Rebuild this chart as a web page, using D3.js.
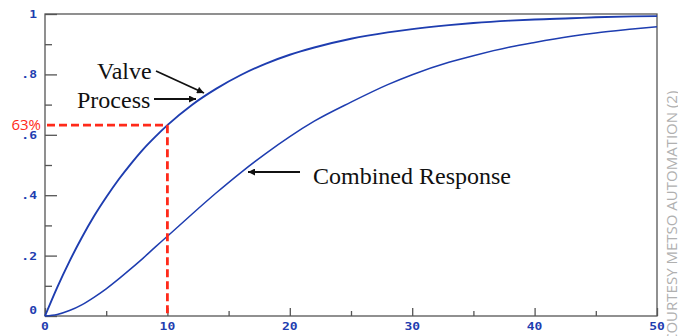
<!DOCTYPE html>
<html><head><meta charset="utf-8">
<script src="https://cdn.jsdelivr.net/npm/d3@7"></script>
<style>body{margin:0;background:#fff}svg{display:block}</style>
</head><body>
<svg id="c" width="678" height="336"></svg>
<script>
const timeVals = [0,1,2,3,4,5,6,7,8,9,10,12,14,16,18,20,22,25,28,30,33,35,38,40,43,45,48,50];
const valveProcess = [0,0.095,0.181,0.259,0.330,0.393,0.451,0.503,0.551,0.593,0.632,0.699,0.753,0.798,0.835,0.865,0.889,0.918,0.939,0.950,0.963,0.970,0.978,0.982,0.986,0.989,0.992,0.993];
const combinedResponse = [0,0.005,0.018,0.037,0.062,0.090,0.122,0.156,0.191,0.228,0.264,0.337,0.408,0.475,0.537,0.594,0.645,0.708,0.766,0.799,0.840,0.862,0.891,0.906,0.926,0.937,0.950,0.958];
const xTicks = [0,10,20,30,40,50];
const xMinor = [5,15,25,35,45];
const yTicks = [0,0.2,0.4,0.6,0.8,1];
const yTickLabels = ["0",".2",".4",".6",".8","1"];
const yMinor = [0.1,0.3,0.5,0.7,0.9];
const markT = 10, markV = 0.632;

const svg = d3.select("#c");
const x = d3.scaleLinear().domain([0,50]).range([45,657]);
const y = d3.scaleLinear().domain([0,1]).range([316,14]);
const axisCol = "#555", blue = "#1e3db0";

// frame
svg.append("rect").attr("x",45).attr("y",14).attr("width",612).attr("height",302)
  .attr("fill","none").attr("stroke",axisCol).attr("stroke-width",1.3);

function inward(axisFn, vals, size, tr){
  const g = svg.append("g").attr("transform",tr)
    .call(axisFn.tickValues(vals).tickSize(size).tickFormat(""));
  g.select(".domain").remove();
  g.selectAll("line").attr("stroke",axisCol).attr("stroke-width",1.3);
}
inward(d3.axisRight(y), yTicks, 12, "translate(45,0)");
inward(d3.axisRight(y), yMinor, 7, "translate(45,0)");
inward(d3.axisTop(x), xTicks, 8, "translate(0,316)");
inward(d3.axisTop(x), xMinor, 5, "translate(0,316)");

// tick labels (blocky, wide)
svg.append("g").selectAll("text").data(yTicks).join("text")
  .attr("transform",(d,i)=>`translate(37,${i===0 ? y(d)-2 : y(d)+4}) scale(1.3,1)`)
  .attr("text-anchor","end").attr("font-family","DejaVu Sans Mono").attr("font-weight","bold")
  .attr("font-size",10).attr("fill",blue).text((d,i)=>yTickLabels[i]);
svg.append("g").selectAll("text").data(xTicks).join("text")
  .attr("transform",d=>`translate(${x(d)},330) scale(1.3,1)`).attr("text-anchor","middle")
  .attr("font-family","DejaVu Sans Mono").attr("font-weight","bold")
  .attr("font-size",10).attr("fill",blue).text(d=>d);

// curves
const line = d3.line().x(d=>x(d[0])).y(d=>y(d[1])).curve(d3.curveMonotoneX);
svg.append("path").datum(timeVals.map((t,i)=>[t,valveProcess[i]]))
  .attr("d",line).attr("fill","none").attr("stroke",blue).attr("stroke-width",1.9);
svg.append("path").datum(timeVals.map((t,i)=>[t,combinedResponse[i]]))
  .attr("d",line).attr("fill","none").attr("stroke",blue).attr("stroke-width",1.5);

// red dashed 63% marker
const red = "#ff2a1a";
svg.append("line").attr("x1",47).attr("x2",x(markT)).attr("y1",y(markV)).attr("y2",y(markV))
  .attr("stroke",red).attr("stroke-width",2.8).attr("stroke-dasharray","8,4");
svg.append("line").attr("x1",x(markT)).attr("x2",x(markT)).attr("y1",y(markV)).attr("y2",316)
  .attr("stroke",red).attr("stroke-width",2.8).attr("stroke-dasharray","8,4");
svg.append("text").attr("x",41).attr("y",y(markV)+5).attr("text-anchor","end")
  .attr("font-family","Open Sans").attr("font-size",15).attr("fill",red).text("63%");

// annotations
const defs = svg.append("defs");
defs.append("marker").attr("id","ah").attr("viewBox","0 0 10 10").attr("refX",10).attr("refY",5)
  .attr("markerWidth",10).attr("markerHeight",7).attr("markerUnits","userSpaceOnUse").attr("orient","auto")
  .append("path").attr("d","M0,0 L10,5 L0,10 Z").attr("fill","#111");
const ann = (t,tx,ty)=>svg.append("text").attr("x",tx).attr("y",ty)
  .attr("font-family","Liberation Serif").attr("font-size",24).attr("fill","#111").text(t);
ann("Valve",97,79);
ann("Process",77,108);
ann("Combined Response",313,184);
const arrow=(x1,y1,x2,y2)=>svg.append("line").attr("x1",x1).attr("y1",y1).attr("x2",x2).attr("y2",y2)
  .attr("stroke","#111").attr("stroke-width",1.8).attr("marker-end","url(#ah)");
arrow(156,71,204,93);
arrow(154,99,196,99);
arrow(300,172,248,172);

// credit
svg.append("text").attr("transform","translate(677,343) rotate(-90)")
  .attr("font-family","Open Sans").attr("font-size",15).attr("fill","#b0b0b0")
  .text("COURTESY METSO AUTOMATION (2)");
</script>
</body></html>
